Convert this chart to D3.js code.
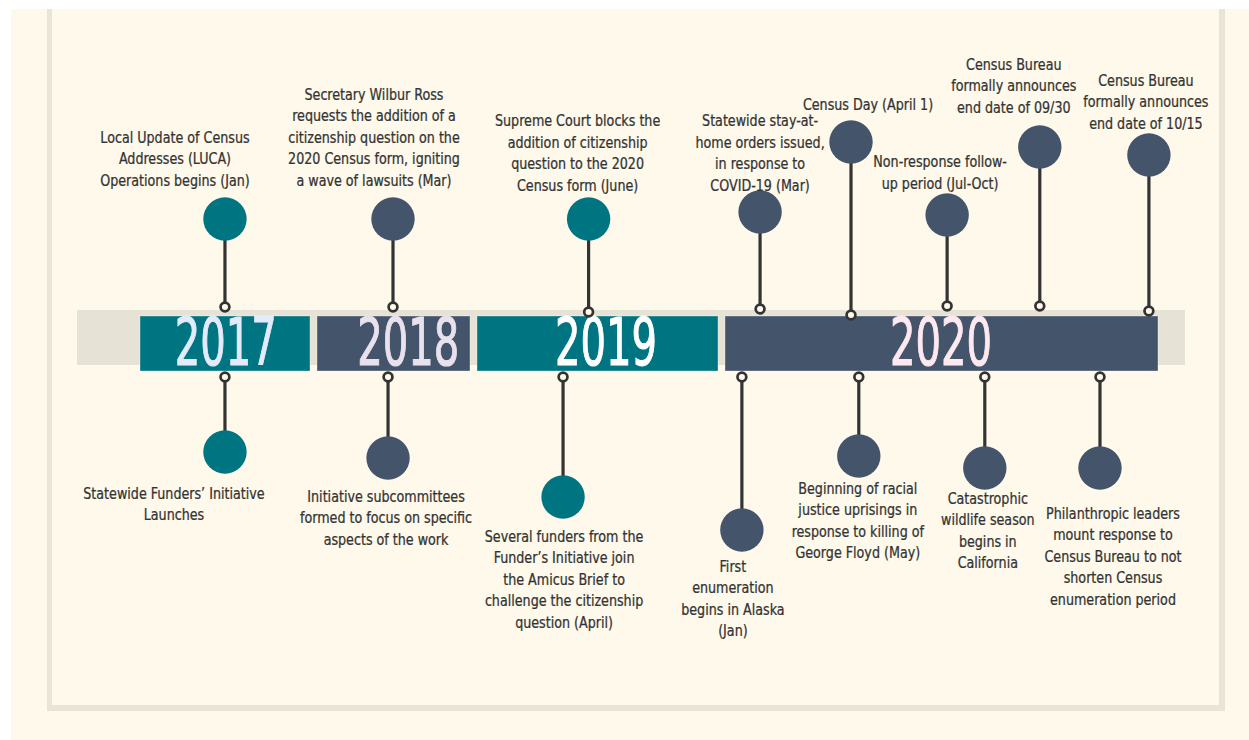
<!DOCTYPE html>
<html>
<head>
<meta charset="utf-8">
<script src="https://cdn.jsdelivr.net/npm/d3@7"></script>
<style>
  html, body { margin: 0; padding: 0; background: #ffffff; }
  svg { display: block; }
  .lbl { font-family: "Liberation Sans Narrow", "DejaVu Sans", sans-serif; font-stretch: condensed; font-size: 15.7px; fill: #333333; stroke: #333333; stroke-width: 0.25px; }
  .yr { font-family: "Liberation Sans Narrow", "DejaVu Sans", sans-serif; font-stretch: condensed; font-size: 66px; }
</style>
</head>
<body>
<script>
// ---------- DATA ----------
const years = [2017, 2018, 2019, 2020];
const yearColors = ["#007582", "#44546b", "#007582", "#44546b"];
const yearTextColors = ["#e3eaf9", "#e9e1ec", "#ffffff", "#fde9ef"];
const yearTextShift = [-0.01, 0.07, 0.02, 0.0]; // label centre shift in years

// events above the track
const topT = [2017.48, 2018.475, 2019.45, 2020.081, 2020.291, 2020.513, 2020.727, 2020.979];
const topReach = [88, 88, 88, 95, 165, 92, 160, 152];
const topSink = [0, 0, 5, 2, 8, -1, -1, 4];
const topColor = ["#007582", "#44546b", "#007582", "#44546b", "#44546b", "#44546b", "#44546b", "#44546b"];
const topLabelDx = [-50, -19, -11, 0, 17, -7, -26, -3];
const topLabelGap = [39, 39, 34, 27, 38, 32, 40, 32];
const topLabels = [
  ["Local Update of Census", "Addresses (LUCA)", "Operations begins (Jan)"],
  ["Secretary Wilbur Ross", "requests the addition of a", "citizenship question on the", "2020 Census form, igniting", "a wave of lawsuits (Mar)"],
  ["Supreme Court blocks the", "addition of citizenship", "question to the 2020", "Census form (June)"],
  ["Statewide stay-at-", "home orders issued,", "in response to", "COVID-19 (Mar)"],
  ["Census Day (April 1)"],
  ["Non-response follow-", "up period (Jul-Oct)"],
  ["Census Bureau", "formally announces", "end date of 09/30"],
  ["Census Bureau", "formally announces", "end date of 10/15"]
];

// events below the track
const botT = [2017.48, 2018.444, 2019.347, 2020.039, 2020.309, 2020.600, 2020.866];
const botReach = [75, 81, 120, 153, 79, 91, 91];
const botColor = ["#007582", "#44546b", "#007582", "#44546b", "#44546b", "#44546b", "#44546b"];
const botLabelDx = [-51, -2, 1, -9, -1, 3, 13];
const botLabelGap = [41, 38, 39, 36, 32, 30, 45];
const botLabels = [
  ["Statewide Funders\u2019 Initiative", "Launches"],
  ["Initiative subcommittees", "formed to focus on specific", "aspects of the work"],
  ["Several funders from the", "Funder\u2019s Initiative join", "the Amicus Brief to", "challenge the citizenship", "question (April)"],
  ["First", "enumeration", "begins in Alaska", "(Jan)"],
  ["Beginning of racial", "justice uprisings in", "response to killing of", "George Floyd (May)"],
  ["Catastrophic", "wildlife season", "begins in", "California"],
  ["Philanthropic leaders", "mount response to", "Census Bureau to not", "shorten Census", "enumeration period"]
];

// ---------- LAYOUT ----------
const W = 1249, H = 740;
const cream = "#fef9ea", border = "#e8e5d8", track = "#e6e3d6", ink = "#333333";
const svg = d3.select("body").append("svg").attr("width", W).attr("height", H);

svg.append("rect").attr("x", 11).attr("y", 9).attr("width", W - 11).attr("height", H - 9).attr("fill", cream);
svg.append("rect").attr("x", 47).attr("y", 9).attr("width", 5).attr("height", 702).attr("fill", border);
svg.append("rect").attr("x", 47).attr("y", 705).attr("width", 1178).attr("height", 6).attr("fill", border);
svg.append("rect").attr("x", 1219).attr("y", 9).attr("width", 6).attr("height", 702).attr("fill", border);

// time scale (piecewise, one segment per year box)
const x = d3.scaleLinear().domain([2017, 2018, 2019, 2020, 2021]).range([140, 317, 477, 725, 1158]);
const gap = 7;
const trackTop = 310, trackBot = 365, boxTop = 316, boxBot = 371;
const knobTop = 307, knobBot = 377;
const lineH = 21.5;
const squeeze = 0.9;

// grey track
svg.append("rect").attr("x", 77).attr("y", trackTop).attr("width", 1185 - 77).attr("height", trackBot - trackTop).attr("fill", track);

// year boxes
const yb = svg.append("g");
yb.selectAll("rect").data(years).join("rect")
  .attr("x", d => x(d))
  .attr("y", boxTop)
  .attr("width", d => x(d + 1) - x(d) - (d === 2020 ? 0 : gap))
  .attr("height", boxBot - boxTop)
  .attr("fill", (d, i) => yearColors[i])
  .attr("stroke", "rgba(255,255,255,0.35)")
  .attr("stroke-width", 1);

yb.selectAll("text").data(years).join("text")
  .attr("class", "yr")
  .attr("x", (d, i) => d === 2020 ? 941 : x(d + 0.5 + yearTextShift[i]) - (i === 0 ? 1 : 0))
  .attr("y", 365)
  .attr("text-anchor", "middle")
  .attr("fill", (d, i) => yearTextColors[i])
  .attr("stroke", (d, i) => yearTextColors[i])
  .attr("stroke-width", 1.1)
  .attr("textLength", 102)
  .attr("lengthAdjust", "spacingAndGlyphs")
  .text(d => d);

// ---------- EVENTS ----------
const topEvents = topT.map((t, i) => ({ t, reach: topReach[i], sink: topSink[i], color: topColor[i], dx: topLabelDx[i], gap: topLabelGap[i], lines: topLabels[i] }));
const botEvents = botT.map((t, i) => ({ t, reach: botReach[i], color: botColor[i], dx: botLabelDx[i], gap: botLabelGap[i], lines: botLabels[i] }));

const ev = svg.append("g");

// stems
ev.selectAll("line.top").data(topEvents).join("line").attr("class", "top")
  .attr("x1", d => x(d.t)).attr("x2", d => x(d.t))
  .attr("y1", d => knobTop + d.sink).attr("y2", d => knobTop - d.reach)
  .attr("stroke", ink).attr("stroke-width", 3.2);
ev.selectAll("line.bot").data(botEvents).join("line").attr("class", "bot")
  .attr("x1", d => x(d.t)).attr("x2", d => x(d.t))
  .attr("y1", knobBot).attr("y2", d => knobBot + d.reach)
  .attr("stroke", ink).attr("stroke-width", 3.2);

// knobs
ev.selectAll("circle.ktop").data(topEvents).join("circle").attr("class", "ktop")
  .attr("cx", d => x(d.t)).attr("cy", d => knobTop + d.sink).attr("r", 4.4)
  .attr("fill", cream).attr("stroke", ink).attr("stroke-width", 2.7);
ev.selectAll("circle.kbot").data(botEvents).join("circle").attr("class", "kbot")
  .attr("cx", d => x(d.t)).attr("cy", knobBot).attr("r", 4.4)
  .attr("fill", cream).attr("stroke", ink).attr("stroke-width", 2.7);

// big dots
ev.selectAll("circle.dtop").data(topEvents).join("circle").attr("class", "dtop")
  .attr("cx", d => x(d.t)).attr("cy", d => knobTop - d.reach).attr("r", 21.7)
  .attr("fill", d => d.color);
ev.selectAll("circle.dbot").data(botEvents).join("circle").attr("class", "dbot")
  .attr("cx", d => x(d.t)).attr("cy", d => knobBot + d.reach).attr("r", 21.7)
  .attr("fill", d => d.color);

// labels: one text per line, narrowed horizontally to mimic a condensed face
function drawLines(g, d, cx, ys) {
  g.selectAll("text").data(d.lines).join("text")
    .attr("class", "lbl")
    .attr("text-anchor", "middle")
    .attr("dy", "0.36em")
    .attr("transform", (s, j) => `translate(${cx},${ys[j]}) scale(${squeeze},1)`)
    .text(s => s);
}
ev.selectAll("g.ltop").data(topEvents).join("g").attr("class", "ltop")
  .each(function (d) {
    const n = d.lines.length;
    const lastY = knobTop - d.reach - d.gap;
    drawLines(d3.select(this), d, x(d.t) + d.dx, d.lines.map((s, j) => lastY - (n - 1 - j) * lineH));
  });
ev.selectAll("g.lbot").data(botEvents).join("g").attr("class", "lbot")
  .each(function (d) {
    const firstY = knobBot + d.reach + d.gap;
    drawLines(d3.select(this), d, x(d.t) + d.dx, d.lines.map((s, j) => firstY + j * lineH));
  });
</script>
</body>
</html>
